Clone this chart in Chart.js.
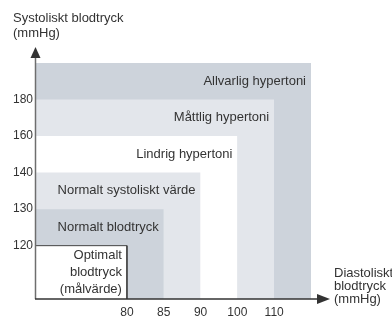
<!DOCTYPE html>
<html>
<head>
<meta charset="utf-8">
<script src="https://cdn.jsdelivr.net/npm/chart.js@4.4.1/dist/chart.umd.min.js"></script>
<style>
  html, body { margin: 0; padding: 0; background: #fff; }
  #wrap { width: 392px; height: 321px; }
</style>
</head>
<body>
<div id="wrap"><canvas id="bpChart" width="392" height="321"></canvas></div>
<script>
// Category limits (mmHg)
const diastolicTicks = [80, 85, 90, 100, 110];
const systolicTicks = [120, 130, 140, 160, 180];
const zoneNames = [
  ['Optimalt', 'blodtryck', '(målvärde)'],
  ['Normalt blodtryck'],
  ['Normalt systoliskt värde'],
  ['Lindrig hypertoni'],
  ['Måttlig hypertoni'],
  ['Allvarlig hypertoni']
];
const zoneColors = ['#ffffff', '#cdd3db', '#e3e6eb', '#ffffff', '#e3e6eb', '#cdd3db'];

const TEXT = '#333333';
const FAMILY = '"Liberation Sans", Arial, sans-serif';
const FONT = '13px ' + FAMILY;

// axis positions are in "step" units: tick i sits at i + 1, the outer zone ends at 6
const X_MIN = -1.47;
const Y_MIN = -0.46;

// one filled rectangle per zone, anchored at the origin
const datasets = zoneNames.map((name, k) => ({
  label: name.join(' '),
  data: [
    { x: X_MIN, y: k + 1 },
    { x: k + 1, y: k + 1 },
    { x: k + 1, y: Y_MIN }
  ],
  borderColor: k === 0 ? '#444' : 'rgba(0,0,0,0)',
  borderWidth: k === 0 ? 1 : 0,
  backgroundColor: zoneColors[k],
  fill: 'start',
  pointRadius: 0,
  tension: 0
}));

// zone captions, right aligned at each zone's corner
const zoneLabelPlugin = {
  id: 'zoneLabels',
  afterDatasetsDraw(chart) {
    const { ctx, scales: { x, y } } = chart;
    ctx.save();
    ctx.font = FONT;
    ctx.fillStyle = TEXT;
    ctx.textAlign = 'right';
    ctx.textBaseline = 'middle';
    zoneNames.forEach((lines, k) => {
      const right = x.getPixelForValue(k + 1) - 5;
      const top = y.getPixelForValue(k + 1);
      const bottom = y.getPixelForValue(k === 0 ? Y_MIN : k);
      const mid = (top + bottom) / 2;
      const lh = 17;
      lines.forEach((t, i) => {
        ctx.fillText(t, right, mid + (i - (lines.length - 1) / 2) * lh);
      });
    });
    ctx.restore();
  }
};

// axes with arrow heads and axis titles
const axesPlugin = {
  id: 'arrowAxes',
  afterDraw(chart) {
    const { ctx, chartArea: a } = chart;
    const ox = a.left - 0.5, oy = a.bottom;
    ctx.save();
    ctx.lineWidth = 1.5;
    ctx.strokeStyle = '#6e6e6e';
    ctx.beginPath();
    ctx.moveTo(ox, oy);
    ctx.lineTo(ox, 56);
    ctx.stroke();
    ctx.strokeStyle = '#333';
    ctx.beginPath();
    ctx.moveTo(ox - 0.5, oy);
    ctx.lineTo(318, oy);
    ctx.stroke();

    ctx.fillStyle = '#333';
    ctx.beginPath();
    ctx.moveTo(ox, 47);
    ctx.lineTo(ox - 5, 58);
    ctx.lineTo(ox + 5, 58);
    ctx.closePath();
    ctx.fill();
    ctx.beginPath();
    ctx.moveTo(330, oy);
    ctx.lineTo(317, oy - 5);
    ctx.lineTo(317, oy + 5);
    ctx.closePath();
    ctx.fill();

    ctx.font = FONT;
    ctx.fillStyle = TEXT;
    ctx.textAlign = 'left';
    ctx.textBaseline = 'middle';
    ctx.fillText('Systoliskt blodtryck', 13, 18);
    ctx.fillText('(mmHg)', 13, 33);
    ctx.fillText('Diastoliskt', 334, 273);
    ctx.fillText('blodtryck', 334, 286);
    ctx.fillText('(mmHg)', 334, 299);
    ctx.restore();
  }
};

new Chart(document.getElementById('bpChart'), {
  type: 'line',
  data: { datasets },
  options: {
    responsive: false,
    animation: false,
    layout: { padding: { top: 63, right: 81, left: 0, bottom: 0 } },
    plugins: {
      legend: { display: false },
      tooltip: { enabled: false }
    },
    scales: {
      x: {
        type: 'linear',
        min: X_MIN,
        max: 6,
        grid: { display: false, drawTicks: false },
        border: { display: false },
        afterFit(scale) { scale.height = 22; },
        afterBuildTicks(scale) {
          scale.ticks = diastolicTicks.map((v, i) => ({ value: i + 1 }));
        },
        ticks: {
          padding: 6,
          color: TEXT,
          font: { family: FAMILY, size: 12 },
          maxRotation: 0,
          callback: (val, idx) => diastolicTicks[idx]
        }
      },
      y: {
        type: 'linear',
        min: Y_MIN,
        max: 6,
        grid: { display: false, drawTicks: false },
        border: { display: false },
        afterFit(scale) { scale.width = 36; },
        afterBuildTicks(scale) {
          scale.ticks = systolicTicks.map((v, i) => ({ value: i + 1 }));
        },
        ticks: {
          padding: 3,
          color: TEXT,
          font: { family: FAMILY, size: 12 },
          callback: (val, idx) => systolicTicks[idx]
        }
      }
    }
  },
  plugins: [zoneLabelPlugin, axesPlugin]
});
</script>
</body>
</html>
